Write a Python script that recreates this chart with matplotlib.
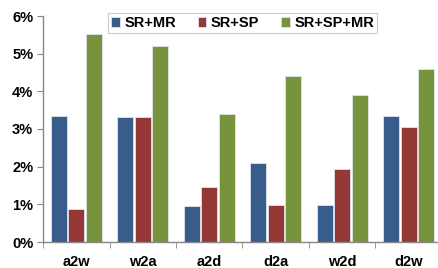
import numpy as np
import matplotlib
matplotlib.use("Agg")
import matplotlib.pyplot as plt
from matplotlib.ticker import FixedLocator, FuncFormatter

# --- DATA ---
categories = ["a2w", "w2a", "a2d", "d2a", "w2d", "d2w"]
series_names = ["SR+MR", "SR+SP", "SR+SP+MR"]
sr_mr = [3.35, 3.31, 0.96, 2.09, 0.97, 3.35]
sr_sp = [0.88, 3.31, 1.45, 0.97, 1.94, 3.04]
sr_sp_mr = [5.51, 5.20, 3.41, 4.41, 3.90, 4.58]
colors = ["#385D8A", "#953735", "#77933C"]

plt.rcParams["font.family"] = ["Liberation Sans", "DejaVu Sans"]
plt.rcParams["font.weight"] = "bold"

fig = plt.figure(figsize=(4.38, 2.68), dpi=100)
ax = fig.add_axes([43 / 438, 26 / 268, 399 / 438, 226 / 268])

x = np.arange(len(categories))
width = 0.24
step = 0.263
for i, (vals, name, col) in enumerate(zip([sr_mr, sr_sp, sr_sp_mr], series_names, colors)):
    ax.bar(x + (i - 1) * step, vals, width, color=col, edgecolor="#dde4ee",
           linewidth=0.6, label=name)

ax.set_xlim(-0.5, len(categories) - 0.5)
ax.set_ylim(0, 6)
ax.set_yticks(range(0, 7))
ax.yaxis.set_major_formatter(FuncFormatter(lambda v, p: f"{int(v)}%"))
ax.tick_params(axis="y", labelsize=10.5, length=4, color="#888888", pad=3)

# category labels centred, ticks at group boundaries
ax.set_xticks(x)
ax.set_xticklabels(categories)
ax.tick_params(axis="x", which="major", length=0, labelsize=10.5, pad=9)
ax.xaxis.set_minor_locator(FixedLocator(np.arange(-0.5, len(categories), 1.0)))
ax.tick_params(axis="x", which="minor", length=4, color="#888888")

for s in ["top", "right"]:
    ax.spines[s].set_visible(False)
for s in ["left", "bottom"]:
    ax.spines[s].set_color("#888888")
    ax.spines[s].set_linewidth(1.0)

leg = ax.legend(loc="upper center", bbox_to_anchor=(0.5, 1.045), ncol=3,
                fontsize=10.5, frameon=True, fancybox=False, handlelength=0.6,
                handleheight=0.6, handletextpad=0.3, columnspacing=1.5,
                borderpad=0.2)
leg.get_frame().set_edgecolor("#b8c0cc")
leg.get_frame().set_linewidth(0.8)

fig.savefig("out.png", dpi=100)
